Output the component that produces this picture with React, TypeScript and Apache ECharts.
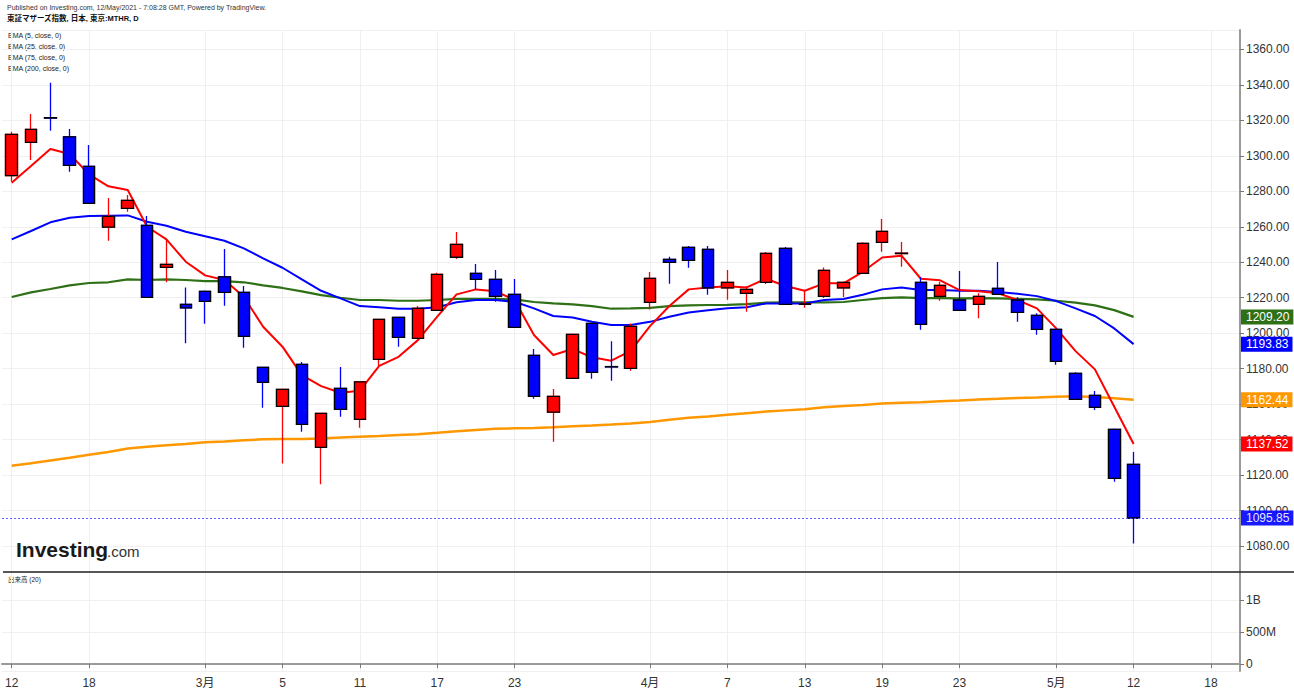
import React, { useEffect, useRef } from "react";
import * as echarts from "echarts";

const DATES = [
  "2021-02-12","2021-02-15","2021-02-16","2021-02-17","2021-02-18","2021-02-19","2021-02-22","2021-02-24","2021-02-25","2021-02-26",
  "2021-03-01","2021-03-02","2021-03-03","2021-03-04","2021-03-05","2021-03-08","2021-03-09","2021-03-10","2021-03-11","2021-03-12",
  "2021-03-15","2021-03-16","2021-03-17","2021-03-18","2021-03-19","2021-03-22","2021-03-23","2021-03-24","2021-03-25","2021-03-26",
  "2021-03-29","2021-03-30","2021-03-31","2021-04-01","2021-04-02","2021-04-05","2021-04-06","2021-04-07","2021-04-08","2021-04-09",
  "2021-04-12","2021-04-13","2021-04-14","2021-04-15","2021-04-16","2021-04-19","2021-04-20","2021-04-21","2021-04-22","2021-04-23",
  "2021-04-26","2021-04-27","2021-04-28","2021-04-30","2021-05-06","2021-05-07","2021-05-10","2021-05-11","2021-05-12",
];
const FUTURE_DATES = ["2021-05-13","2021-05-14","2021-05-17","2021-05-18","2021-05-19"];
const TICK_DATES = [
  "2021-02-12","2021-02-18","2021-03-01","2021-03-05","2021-03-11","2021-03-17","2021-03-23",
  "2021-04-01","2021-04-07","2021-04-13","2021-04-19","2021-04-23","2021-05-06","2021-05-12","2021-05-18",
];
const MONTH_STARTS = ["2021-03-01","2021-04-01","2021-05-06"];

const OPEN = [
  1288.8,1307.6,1321.5,1310.7,1294.0,1259.8,1270.4,1260.8,1237.1,1216.3,
  1223.6,1231.8,1223.0,1180.7,1158.8,1182.4,1135.6,1168.9,1151.4,1185.3,
  1208.9,1197.1,1212.9,1242.8,1233.7,1230.3,1221.9,1187.5,1155.5,1174.5,
  1205.5,1181.2,1180.2,1217.4,1241.6,1248.4,1247.3,1225.6,1222.5,1228.7,
  1247.8,1216.3,1220.8,1225.6,1233.7,1251.2,1244.9,1228.7,1220.8,1218.7,
  1216.3,1225.3,1218.7,1210.1,1202.2,1177.4,1165.0,1145.8,1126.1,
];
const CLOSE = [
  1312.1,1314.9,1321.3,1294.6,1273.2,1265.9,1274.9,1220.2,1238.8,1214.3,
  1217.9,1223.0,1198.2,1172.3,1168.3,1148.6,1154.8,1157.1,1172.6,1207.8,
  1197.7,1214.0,1233.2,1250.1,1230.3,1220.8,1203.3,1164.4,1164.4,1199.3,
  1177.9,1181.0,1203.9,1230.9,1239.9,1241.1,1225.6,1228.7,1224.7,1245.0,
  1216.3,1216.5,1235.4,1228.7,1250.6,1257.4,1245.1,1205.0,1227.0,1212.9,
  1220.8,1221.9,1211.7,1202.2,1184.1,1162.7,1158.2,1118.2,1095.85,
];
const LOW = [
  1285.4,1297.6,1314.1,1291.0,1272.8,1252.1,1268.5,1220.0,1228.7,1194.3,
  1205.3,1215.5,1191.8,1158.0,1126.6,1144.4,1114.8,1152.9,1146.7,1181.6,
  1192.4,1197.0,1212.6,1241.8,1224.7,1217.7,1203.0,1163.0,1138.8,1174.3,
  1174.3,1173.2,1178.8,1213.4,1227.9,1236.9,1221.7,1218.8,1212.1,1227.7,
  1216.0,1214.3,1219.8,1220.4,1233.5,1245.9,1237.5,1201.9,1218.3,1212.6,
  1208.4,1221.6,1206.4,1199.1,1182.2,1162.5,1156.7,1116.3,1081.5,
];
const HIGH = [
  1313.6,1323.5,1341.2,1315.1,1306.1,1276.2,1277.9,1266.0,1252.9,1225.8,
  1224.0,1247.4,1226.6,1180.9,1168.5,1183.7,1155.0,1180.9,1172.8,1208.0,
  1209.0,1215.3,1234.1,1257.0,1239.0,1235.6,1230.5,1191.1,1168.5,1199.8,
  1205.6,1195.4,1205.5,1234.5,1243.1,1249.1,1249.1,1235.6,1226.5,1245.7,
  1248.6,1224.3,1237.1,1229.2,1251.2,1264.3,1251.4,1231.5,1229.0,1235.0,
  1222.5,1240.1,1220.2,1211.3,1202.5,1178.0,1167.4,1146.3,1133.0,
];

const EMA5 = [
  1284.8,1294.2,1303.8,1301.0,1289.5,1282.8,1280.7,1260.0,1252.9,1240.3,
  1232.6,1230.0,1220.5,1203.6,1192.4,1176.4,1170.2,1166.4,1167.6,1181.6,
  1186.7,1196.1,1209.3,1221.9,1224.7,1223.7,1218.7,1199.0,1187.7,1191.1,
  1186.4,1184.5,1190.1,1204.0,1215.3,1224.7,1225.8,1226.4,1225.8,1230.7,
  1226.6,1223.9,1228.1,1228.1,1234.6,1242.7,1243.7,1230.7,1229.8,1224.3,
  1223.7,1222.5,1218.7,1214.0,1202.7,1189.9,1179.6,1158.5,1137.52,
];
const EMA25 = [
  1252.9,1257.6,1262.5,1265.1,1266.0,1266.2,1266.4,1262.8,1260.6,1257.2,
  1254.6,1252.1,1247.8,1242.2,1236.9,1230.3,1223.9,1219.6,1215.3,1214.6,
  1213.8,1213.8,1214.6,1217.4,1218.7,1218.7,1217.7,1214.0,1209.7,1208.9,
  1206.4,1204.6,1204.6,1206.4,1209.3,1211.7,1213.0,1214.0,1214.6,1216.8,
  1216.8,1216.8,1218.7,1219.3,1221.7,1224.7,1225.8,1224.3,1224.3,1223.9,
  1223.9,1223.2,1222.2,1220.9,1218.1,1214.0,1209.7,1202.7,1193.83,
];
const EMA75 = [
  1220.4,1223.0,1224.9,1227.0,1228.3,1228.7,1230.3,1230.0,1230.3,1230.0,
  1229.4,1229.4,1228.7,1227.0,1225.5,1223.6,1221.5,1220.0,1218.7,1218.7,
  1218.3,1218.3,1218.7,1219.3,1219.3,1219.3,1219.1,1217.6,1216.8,1216.3,
  1215.3,1213.8,1214.0,1214.3,1215.3,1215.7,1215.9,1216.0,1216.4,1217.2,
  1217.4,1217.4,1217.4,1217.6,1218.7,1219.8,1220.2,1219.8,1219.8,1219.6,
  1219.8,1219.6,1219.4,1219.1,1218.3,1217.2,1215.7,1213.0,1209.20,
];
const EMA200 = [
  1125.3,1126.7,1128.3,1129.8,1131.5,1133.0,1135.0,1136.0,1136.8,1137.6,
  1138.5,1139.0,1139.6,1140.2,1140.4,1140.3,1140.6,1141.2,1141.6,1142.0,
  1142.6,1143.1,1143.9,1144.8,1145.5,1146.1,1146.4,1146.6,1147.0,1147.6,
  1148.0,1148.5,1149.1,1150.0,1151.2,1152.3,1153.1,1154.0,1154.9,1155.8,
  1156.5,1157.2,1158.2,1158.9,1159.5,1160.4,1160.8,1161.1,1161.6,1162.0,
  1162.6,1163.0,1163.5,1163.8,1164.2,1164.4,1164.1,1163.3,1162.44,
];

const EMA_LEGEND = ["EMA (5, close, 0)", "EMA (25, close, 0)", "EMA (75, close, 0)", "EMA (200, close, 0)"];

const FONT = "'Liberation Sans', Arial, 'Noto Sans CJK JP', sans-serif";
const RED = "#ff0000";
const BLUE = "#0000ff";
const GREEN = "#2e7016";
const ORANGE = "#ff9800";

export default function App() {
  const ref = useRef<HTMLDivElement>(null);

  useEffect(() => {
    if (!ref.current) return;
    const chart = echarts.init(ref.current, null, { renderer: "svg" });
    const cats = [...DATES, ...FUTURE_DATES];
    const tickSet = new Set(TICK_DATES);
    const showTick = (_i: number, v: string) => tickSet.has(v);
    const fmtDate = (v: string) =>
      MONTH_STARTS.includes(v) ? `${+v.slice(5, 7)}月` : String(+v.slice(8, 10));
    const last = (a: number[]) => a[a.length - 1];

    const wickData = DATES.map((_, i) => [OPEN[i], CLOSE[i], LOW[i], HIGH[i]]);
    const bodyData = DATES.map((_, i) => [
      OPEN[i], CLOSE[i], Math.min(OPEN[i], CLOSE[i]), Math.max(OPEN[i], CLOSE[i]),
    ]);

    const vGrid = {
      silent: true,
      symbol: ["none", "none"],
      z: 0,
      label: { show: false },
      lineStyle: { color: "#efefef", width: 1, type: "solid" },
      data: TICK_DATES.map((d) => ({ xAxis: d })),
    };

    const tag = (value: number, color: string, line?: any) => ({
      silent: true,
      symbol: ["none", "none"],
      z: 6,
      lineStyle: line || { color: "rgba(255,255,255,0)", width: 1, type: "solid" },
      label: {
        show: true,
        position: "end",
        distance: 1,
        formatter: () => value.toFixed(2),
        color: "#fff",
        backgroundColor: color,
        padding: [2, 4, 1, 5],
        fontSize: 12,
        fontFamily: FONT,
      },
      data: [{ yAxis: value }],
    });

    const emaSeries = (name: string, data: number[], color: string, width: number) => ({
      name,
      type: "line",
      xAxisIndex: 0,
      yAxisIndex: 0,
      data,
      symbol: "none",
      z: 2,
      lineStyle: { color, width },
      markLine: tag(last(data), color),
    });

    const option: any = {
      animation: false,
      backgroundColor: "#ffffff",
      textStyle: { fontFamily: FONT },
      grid: [
        { left: 2, right: 54, top: 30, height: 542 },
        { left: 2, right: 54, top: 572, height: 99 },
      ],
      xAxis: [
        {
          type: "category", gridIndex: 0, data: cats, boundaryGap: true,
          axisLine: { show: false }, axisTick: { show: false },
          axisLabel: { show: false }, splitLine: { show: false },
        },
        {
          type: "category", gridIndex: 1, data: cats, boundaryGap: true,
          axisLine: { show: true, lineStyle: { color: "#9a9a9a", width: 2 } },
          axisTick: { show: true, alignWithLabel: true, interval: showTick, length: 4, lineStyle: { color: "#777" } },
          axisLabel: { interval: showTick, formatter: fmtDate, color: "#333", fontSize: 12, margin: 6, fontFamily: FONT },
          splitLine: { show: false },
        },
      ],
      yAxis: [
        {
          type: "value", gridIndex: 0, position: "right",
          min: 1065.4, max: 1370.9, splitNumber: 15, minInterval: 20, maxInterval: 20,
          axisLine: { show: true, lineStyle: { color: "#9a9a9a", width: 2 } },
          axisTick: { show: true, length: 4, lineStyle: { color: "#777" } },
          axisLabel: {
            formatter: (v: number) => v.toFixed(2), color: "#333", fontSize: 12, margin: 6,
            showMinLabel: false, showMaxLabel: false, fontFamily: FONT,
          },
          splitLine: { show: true, lineStyle: { color: "#f0f0f0", width: 1 } },
        },
        {
          type: "value", gridIndex: 1, position: "right",
          min: -109375000, max: 1437500000, splitNumber: 3, minInterval: 500000000, maxInterval: 500000000,
          axisLine: { show: true, lineStyle: { color: "#9a9a9a", width: 2 } },
          axisTick: { show: true, length: 4, lineStyle: { color: "#777" } },
          axisLabel: {
            formatter: (v: number) => (v === 0 ? "0" : v >= 1e9 ? `${v / 1e9}B` : `${v / 1e6}M`),
            color: "#333", fontSize: 12, margin: 6, showMinLabel: false, showMaxLabel: false, fontFamily: FONT,
          },
          splitLine: { show: true, lineStyle: { color: "#f0f0f0", width: 1 } },
        },
      ],
      series: [
        { type: "line", xAxisIndex: 0, yAxisIndex: 0, data: [], z: 0, markLine: vGrid },
        { type: "line", xAxisIndex: 1, yAxisIndex: 1, data: [], z: 0, markLine: vGrid },
        emaSeries("EMA200", EMA200, ORANGE, 2.5),
        emaSeries("EMA75", EMA75, GREEN, 2.2),
        emaSeries("EMA25", EMA25, BLUE, 2),
        emaSeries("EMA5", EMA5, RED, 2),
        {
          name: "wick", type: "candlestick", xAxisIndex: 0, yAxisIndex: 0, z: 3,
          barWidth: 12, data: wickData,
          itemStyle: { color: RED, color0: BLUE, borderColor: RED, borderColor0: BLUE, borderWidth: 1.3 },
        },
        {
          name: "body", type: "candlestick", xAxisIndex: 0, yAxisIndex: 0, z: 4,
          barWidth: 12, data: bodyData,
          itemStyle: { color: RED, color0: BLUE, borderColor: "#000", borderColor0: "#000", borderColorDoji: "#000", borderWidth: 1.3 },
          markLine: tag(last(CLOSE), BLUE, { color: "#5555ff", width: 1, type: [2, 2], opacity: 0.9 }),
        },
      ],
      graphic: [
        {
          type: "text", left: 7, top: 4, silent: true,
          style: { text: "Published on Investing.com, 12/May/2021 - 7:08:28 GMT, Powered by TradingView.", font: `7px ${FONT}`, fill: "#333" },
        },
        {
          type: "text", left: 7, top: 15, silent: true,
          style: { text: "東証マザーズ指数, 日本, 東京:MTHR, D", font: `bold 7.5px ${FONT}`, fill: "#111" },
        },
        ...EMA_LEGEND.map((t, i) => ({
          type: "text", left: 8, top: 32 + i * 11, silent: true,
          style: { text: t, font: `7px ${FONT}`, fill: "#222" },
        })),
        {
          type: "text", left: 8, top: 576, silent: true,
          style: { text: "出来高 (20)", font: `6.5px ${FONT}`, fill: "#222" },
        },
        {
          type: "line", silent: true, z: 10,
          shape: { x1: 3, y1: 572, x2: 1294, y2: 572 },
          style: { stroke: "#222", lineWidth: 1.5 },
        },
        {
          type: "text", left: 16, top: 539, silent: true, z: 10,
          style: { text: "Investing", font: `bold 21px ${FONT}`, fill: "#1a1a1a" },
        },
        {
          type: "text", left: 107, top: 544, silent: true, z: 10,
          style: { text: ".com", font: `15px ${FONT}`, fill: "#333" },
        },
      ],
    };

    chart.setOption(option);
    return () => chart.dispose();
  }, []);

  return (
    <div
      ref={ref}
      style={{ position: "absolute", left: 0, top: 0, width: 1294, height: 692, background: "#fff" }}
    />
  );
}
